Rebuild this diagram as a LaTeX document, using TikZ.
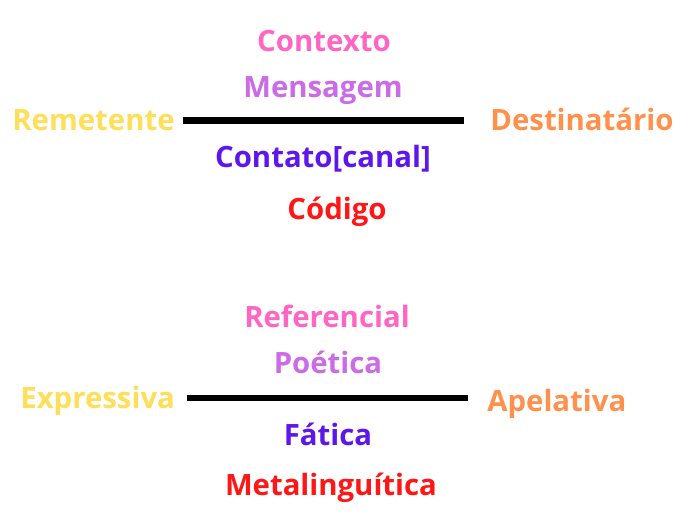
\documentclass[tikz,border=0pt]{standalone}
\usepackage{fontspec}
\setmainfont{Open Sans}
\usepackage{tikz}

\definecolor{rosa}{HTML}{FF66C4}
\definecolor{lilas}{HTML}{CB6CE6}
\definecolor{amarelo}{HTML}{FFDE59}
\definecolor{laranja}{HTML}{FF914D}
\definecolor{roxo}{HTML}{5E17EB}
\definecolor{vermelho}{HTML}{FF1616}

\tikzset{
  rotulo/.style={inner sep=0pt,anchor=base,font=\fontsize{16.7}{20}\selectfont\bfseries},
  barra/.style={line width=3.6pt,black}
}

\begin{document}
\begin{tikzpicture}
\useasboundingbox (0,0) rectangle (13.86,10.52);
% elementos da comunicacao
\node[rotulo,rosa] (contexto) at (6.48,9.48) {Contexto};
\node[rotulo,lilas] (mensagem) at (6.46,8.57) {Mensagem};
\node[rotulo,amarelo,anchor=base west] (remetente) at (0.24,7.91) {Remetente};
\node[rotulo,laranja,anchor=base west] (destinatario) at (9.80,7.90) {Destinatário};
\node[rotulo,roxo] (contato) at (6.46,7.17) {Contato[canal]};
\node[rotulo,vermelho] (codigo) at (6.74,6.13) {Código};
\coordinate (a1) at (3.65,8.11);
\coordinate (b1) at (9.27,8.11);
\draw[barra] (a1) -- (b1);
% funcoes da linguagem
\node[rotulo,rosa] (referencial) at (6.54,3.97) {Referencial};
\node[rotulo,lilas] (poetica) at (6.56,3.05) {Poética};
\node[rotulo,amarelo,anchor=base west] (expressiva) at (0.40,2.35) {Expressiva};
\node[rotulo,laranja,anchor=base west] (apelativa) at (9.74,2.29) {Apelativa};
\node[rotulo,roxo] (fatica) at (6.56,1.61) {Fática};
\node[rotulo,vermelho] (metalinguistica) at (6.62,0.60) {Metalinguítica};
\coordinate (a2) at (3.73,2.56);
\coordinate (b2) at (9.36,2.56);
\draw[barra] (a2) -- (b2);
\end{tikzpicture}
\end{document}
